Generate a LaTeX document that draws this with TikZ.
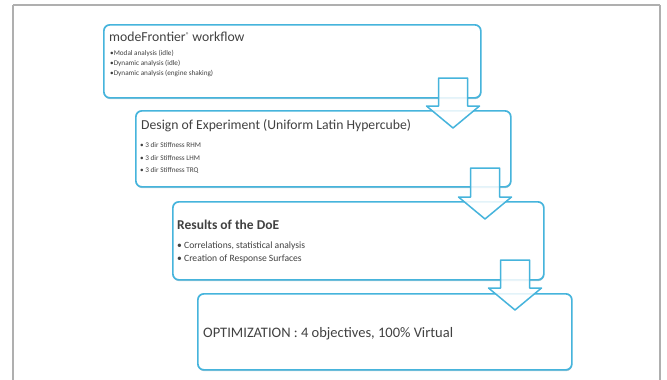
\documentclass[tikz,border=0pt]{standalone}
\usepackage{fontspec}
\setmainfont{Carlito}
\usetikzlibrary{shadows}
\definecolor{boxblue}{RGB}{70,180,220}
\definecolor{framegray}{RGB}{175,175,175}
\definecolor{txt}{RGB}{65,65,65}
\begin{document}
\begin{tikzpicture}[x=1pt,y=-1pt,
  frame/.style={draw=framegray,line width=2pt},
  stagebox/.style={draw=boxblue,line width=1.7pt,rounded corners=6pt,fill=white,inner sep=0pt,anchor=north west,
    drop shadow={shadow xshift=0.3pt,shadow yshift=-1.3pt,fill=boxblue!60!black,opacity=0.35}},
  blk/.style={draw=boxblue,line width=1.5pt,fill=white,fill opacity=0.85,line join=round},
  ttl/.style={anchor=base west,inner sep=0pt,text=txt,font=\fontsize{13.7}{16}\selectfont},
  bul/.style={anchor=base west,inner sep=0pt,text=txt,font=\fontsize{7.2}{9}\selectfont},
  bulb/.style={anchor=base west,inner sep=0pt,text=txt,font=\fontsize{9.6}{11}\selectfont}]
\useasboundingbox (0,0) rectangle (667,380);
\path[frame] (13,5) -- (13,395) (660,5) -- (660,395) (13,5) -- (660,5);
% boxes
\node[stagebox,minimum width=377pt,minimum height=73pt] (b1) at (103,24) {};
\node[stagebox,minimum width=375pt,minimum height=76pt] (b2) at (135,110) {};
\node[stagebox,minimum width=371pt,minimum height=78pt] (b3) at (172,201) {};
\node[stagebox,minimum width=374pt,minimum height=76pt] (b4) at (197,293) {};
% texts
\node[ttl] (t1) at (109,41.5) {modeFrontier\raisebox{3.5pt}{\fontsize{7}{8}\selectfont ®} workflow};
\node[bul] (t1a) at (110,55.5) {•Modal analysis (idle)};
\node[bul] (t1b) at (110,65.5) {•Dynamic analysis (idle)};
\node[bul] (t1c) at (110,75.5) {•Dynamic analysis (engine shaking)};
\node[ttl] (t2) at (141,129.5) {Design of Experiment (Uniform Latin Hypercube)};
\node[bul] (t2a) at (140,147.5) {• 3 dir Stiffness RHM};
\node[bul] (t2b) at (140,160) {• 3 dir Stiffness LHM};
\node[bul] (t2c) at (140,172.5) {• 3 dir Stiffness TRQ};
\node[ttl,font=\bfseries\fontsize{13.5}{16}\selectfont] (t3) at (177,229.5) {Results of the DoE};
\node[bulb] (t3a) at (177,248) {• Correlations, statistical analysis};
\node[bulb] (t3b) at (177,261) {• Creation of Response Surfaces};
\node[ttl,font=\fontsize{14.5}{17}\selectfont] (t4) at (203,337) {OPTIMIZATION : 4 objectives, 100\% Virtual};
% block arrows
\newcommand\blkarrow[4]{%
  \draw[blk] ({#1-14.5},#2) -- ({#1+14.5},#2) -- ({#1+14.5},#3) -- ({#1+26.5},#3)
    -- (#1,#4) -- ({#1-26.5},#3) -- ({#1-14.5},#3) -- cycle;}
\blkarrow{453}{78}{106}{128}
\blkarrow{485}{168}{197}{219}
\blkarrow{515}{260}{288}{310}
\end{tikzpicture}
\end{document}
